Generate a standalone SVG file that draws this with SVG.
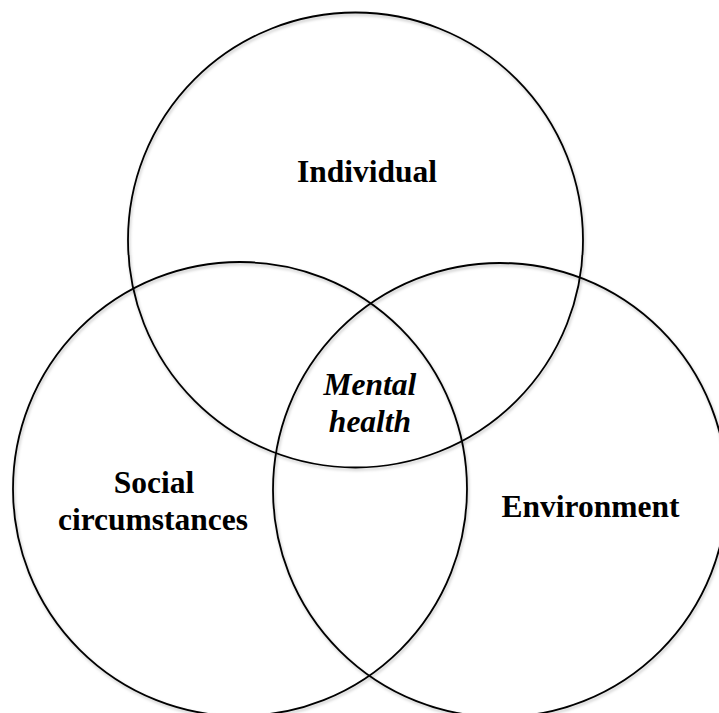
<svg xmlns="http://www.w3.org/2000/svg" width="719" height="713" viewBox="0 0 719 713">
  <defs>
    <filter id="shadow" x="-10%" y="-10%" width="120%" height="120%">
      <feDropShadow dx="1" dy="2" stdDeviation="1.5" flood-color="#000" flood-opacity="0.25"/>
    </filter>
  </defs>
  <style>
    .ring { fill: none; stroke: #000; stroke-width: 1.8; filter: url(#shadow); }
    .lbl { font-family: "Liberation Serif", "Times New Roman", serif; font-weight: bold; font-size: 31.5px; fill: #000; text-anchor: middle; }
    .it { font-style: italic; }
  </style>
  <rect x="0" y="0" width="719" height="713" fill="#fff"/>
  <g id="individual">
    <circle class="ring" cx="355.5" cy="240" r="227.5"/>
    <text class="lbl" x="367" y="182">Individual</text>
  </g>
  <g id="social">
    <circle class="ring" cx="240" cy="489" r="227"/>
    <text class="lbl" x="154" y="493">Social</text>
    <text class="lbl" x="153" y="530">circumstances</text>
  </g>
  <g id="environment">
    <circle class="ring" cx="500" cy="490" r="227"/>
    <text class="lbl" x="590.5" y="517">Environment</text>
  </g>
  <g id="mental-health">
    <text class="lbl it" x="370" y="395">Mental</text>
    <text class="lbl it" x="370" y="432">health</text>
  </g>
  <g id="connectors"/>
</svg>
